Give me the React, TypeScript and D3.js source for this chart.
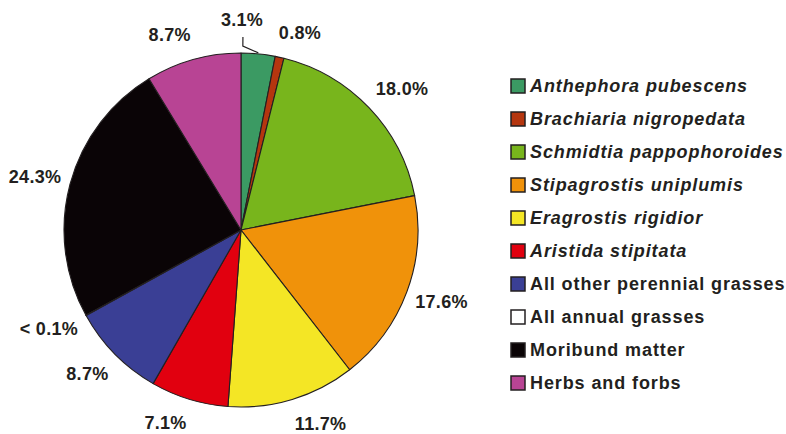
import React from "react";
import * as d3 from "d3";

const categories = [
  "Anthephora pubescens",
  "Brachiaria nigropedata",
  "Schmidtia pappophoroides",
  "Stipagrostis uniplumis",
  "Eragrostis rigidior",
  "Aristida stipitata",
  "All other perennial grasses",
  "All annual grasses",
  "Moribund matter",
  "Herbs and forbs",
];
const values = [3.1, 0.8, 18.0, 17.6, 11.7, 7.1, 8.7, 0.05, 24.3, 8.7];
const labels = ["3.1%", "0.8%", "18.0%", "17.6%", "11.7%", "7.1%", "8.7%", "< 0.1%", "24.3%", "8.7%"];
const italic = [true, true, true, true, true, true, false, false, false, false];
const colors = [
  "#3b9a63",
  "#b5360f",
  "#78b51c",
  "#f0920a",
  "#f4e625",
  "#e1000f",
  "#3a3f95",
  "#ffffff",
  "#0a0406",
  "#b84494",
];

const W = 786;
const H = 434;
const cx = 241;
const cy = 230;
const R = 177;
const anchorRx = 186;
const anchorRy = 195;
const font = "'Liberation Sans', Arial, Helvetica, sans-serif";
const ink = "#231f20";
const labelSize = 18;
const labelSpacing = 0.3;

let ctx: CanvasRenderingContext2D | null = null;
function measure(t: string): number {
  if (typeof document === "undefined") return t.length * 10;
  if (!ctx) ctx = document.createElement("canvas").getContext("2d");
  if (!ctx) return t.length * 10;
  ctx.font = `bold ${labelSize}px 'Liberation Sans', Arial, sans-serif`;
  return ctx.measureText(t).width + labelSpacing * t.length;
}

export default function App() {
  const pie = d3.pie<number>().sort(null).value((d) => d).startAngle(0).endAngle(2 * Math.PI);
  const arcs = pie(values);
  const arc = d3.arc<d3.PieArcDatum<number>>().innerRadius(0).outerRadius(R);
  const pt = (a: number, r: number) => [Math.sin(a) * r, -Math.cos(a) * r];
  const clamp = (v: number) => Math.max(-1, Math.min(1, v));

  const legendY = d3.scaleBand<number>().domain(d3.range(categories.length)).range([69.5, 399.5]);
  const textH = 14;

  return (
    <svg width={W} height={H} style={{ position: "absolute", left: 0, top: 0, background: "#fff" }}>
      <g transform={`translate(${cx},${cy})`}>
        {arcs.map((a, i) => (
          <path key={i} d={arc(a) || ""} fill={colors[i]} stroke={ink} strokeWidth={1.1} strokeLinejoin="round" />
        ))}
        {arcs.map((a, i) => {
          const mid = (a.startAngle + a.endAngle) / 2;
          const common = {
            textAnchor: "middle" as const,
            dominantBaseline: "central" as const,
            fontFamily: font,
            fontWeight: "bold",
            fontSize: labelSize,
            letterSpacing: labelSpacing,
            fill: ink,
          };
          if (i === 0) {
            const [x0, y0] = pt(mid, R + 1);
            const [x1, y1] = pt(0.01, R + 7);
            const [x2, y2] = pt(0.01, R + 16);
            const [lx, ly] = pt(0.005, R + 33);
            return (
              <g key={i}>
                <polyline points={`${x0},${y0} ${x1},${y1} ${x2},${y2}`} fill="none" stroke={ink} strokeWidth={1.2} />
                <text x={lx} y={ly} {...common}>
                  {labels[i]}
                </text>
              </g>
            );
          }
          const px = Math.sin(mid) * anchorRx;
          const py = -Math.cos(mid) * anchorRy;
          const w = measure(labels[i]);
          const hx = clamp(Math.sin(mid) * 4);
          const hy = clamp(-Math.cos(mid) * 1.5);
          return (
            <text key={i} x={px + (hx * w) / 2} y={py + (hy * textH) / 2} {...common}>
              {labels[i]}
            </text>
          );
        })}
      </g>
      <g>
        {categories.map((c, i) => {
          const y = (legendY(i) || 0) + legendY.bandwidth() / 2;
          return (
            <g key={c}>
              <rect x={511} y={y - 7} width={14} height={14} fill={colors[i]} stroke={ink} strokeWidth={1.5} />
              <text
                x={530}
                y={y}
                dominantBaseline="central"
                fontFamily={font}
                fontWeight="bold"
                fontStyle={italic[i] ? "italic" : "normal"}
                fontSize={18}
                letterSpacing={0.9}
                fill={ink}
              >
                {c}
              </text>
            </g>
          );
        })}
      </g>
    </svg>
  );
}
